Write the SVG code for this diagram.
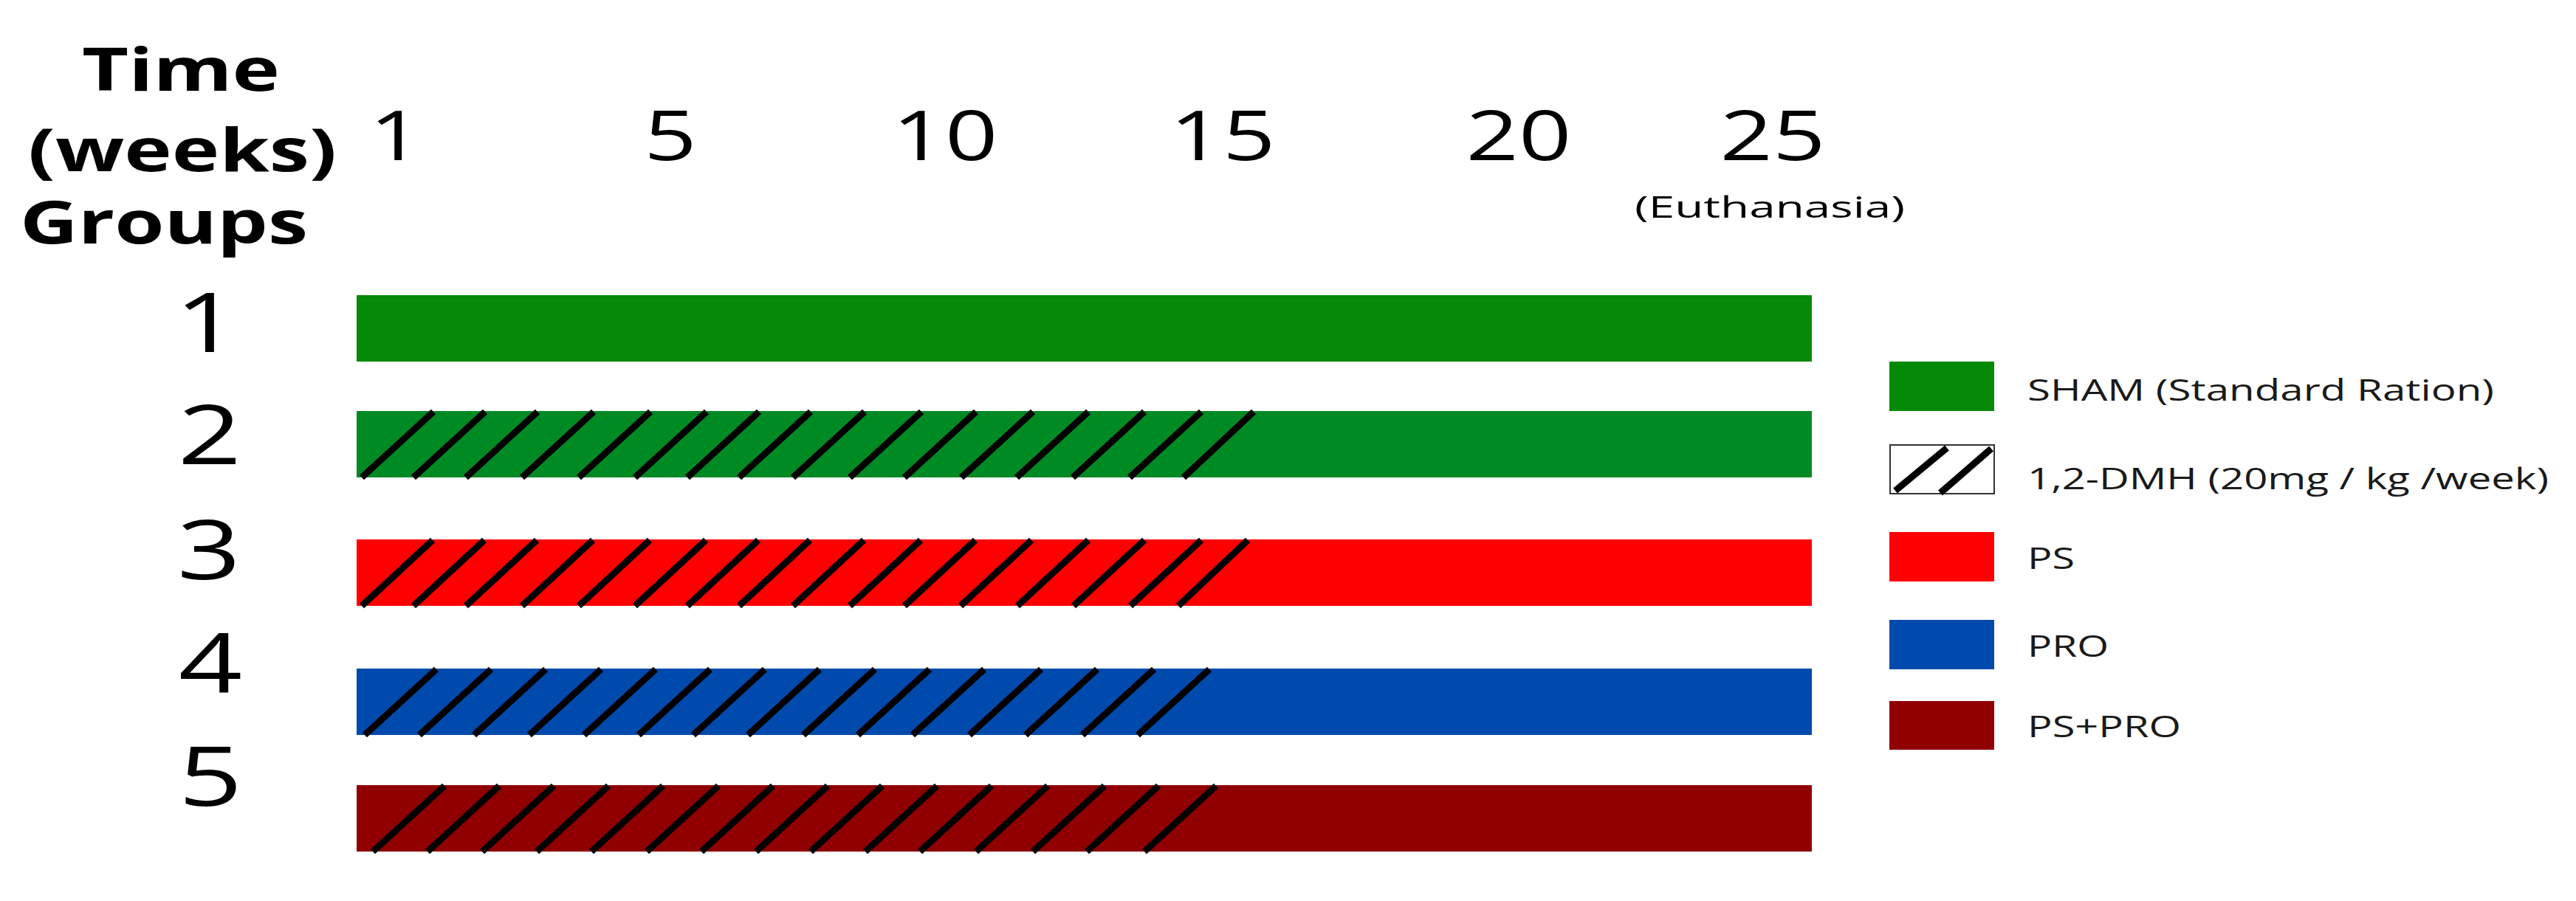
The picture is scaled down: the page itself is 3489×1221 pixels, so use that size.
<svg xmlns="http://www.w3.org/2000/svg" width="3489" height="1221" viewBox="0 0 3489 1221">
<style>
  text { font-family: "Open Sans", "Noto Sans", "DejaVu Sans", sans-serif; fill: #000; }
  .hdr { font-size: 80px; font-weight: 700; text-anchor: middle; }
  .wk { font-size: 94px; text-anchor: middle; }
  .grp { font-size: 112px; text-anchor: middle; }
  .eu { font-size: 40px; text-anchor: middle; }
  .lg { font-size: 40px; fill: #1a1a1a; }
  .hatch { fill: none; stroke: #000; stroke-width: 9; stroke-linecap: butt; }
  .g1 { fill: #058a07; }
  .g2 { fill: #008a24; }
  .rd { fill: #ff0000; }
  .bl { fill: #004aad; }
  .dr { fill: #900000; }
</style>
<rect width="3489" height="1221" fill="#fff"/>

<g id="header">
  <text class="hdr" x="245" y="123" textLength="268" lengthAdjust="spacingAndGlyphs">Time</text>
  <text class="hdr" x="247" y="232" textLength="418" lengthAdjust="spacingAndGlyphs">(weeks)</text>
  <text class="hdr" x="222" y="330" textLength="390" lengthAdjust="spacingAndGlyphs">Groups</text>
</g>

<g id="weeks">
  <text class="wk" transform="translate(536,217) scale(1.33,1)">1</text>
  <text class="wk" transform="translate(908,217) scale(1.33,1)">5</text>
  <text class="wk" transform="translate(1280,217) scale(1.33,1)">10</text>
  <text class="wk" transform="translate(1656,217) scale(1.33,1)">15</text>
  <text class="wk" transform="translate(2057,217) scale(1.33,1)">20</text>
  <text class="wk" transform="translate(2401,217) scale(1.33,1)">25</text>
  <text class="eu" x="2397" y="295" textLength="366" lengthAdjust="spacingAndGlyphs">(Euthanasia)</text>
</g>

<g id="group1">
  <text class="grp" transform="translate(280,477) scale(1.35,1)">1</text>
  <rect class="g1" x="483" y="400" width="1971" height="90"/>
</g>

<g id="group2">
  <text class="grp" transform="translate(284,629) scale(1.35,1)">2</text>
  <rect class="g2" x="483" y="557" width="1971" height="90"/>
  <path class="hatch" d="M490 647l97 -89M560 647l97 -89M631 647l97 -89M707 647l97 -89M784 647l97 -89M860 647l97 -89M931 647l97 -89M1001 647l97 -89M1074 647l97 -89M1151 647l97 -89M1225 647l97 -89M1302 647l97 -89M1377 647l97 -89M1453 647l97 -89M1530 647l97 -89M1603 647l95 -89"/>
</g>

<g id="group3">
  <text class="grp" transform="translate(283,785) scale(1.35,1)">3</text>
  <rect class="rd" x="483" y="731" width="1971" height="90"/>
  <path class="hatch" d="M490 821l96 -89M560 821l96 -89M631 821l96 -89M707 821l96 -89M784 821l96 -89M860 821l96 -89M931 821l96 -89M1001 821l96 -89M1074 821l96 -89M1151 821l96 -89M1225 821l96 -89M1301 821l96 -89M1378 821l96 -89M1454 821l96 -89M1531 821l96 -89M1596 821l94 -89"/>
</g>

<g id="group4">
  <text class="grp" transform="translate(285,939) scale(1.35,1)">4</text>
  <rect class="bl" x="483" y="906" width="1971" height="90"/>
  <path class="hatch" d="M494 996l97 -89M568 996l97 -89M642 996l97 -89M717 996l97 -89M791 996l97 -89M865 996l97 -89M939 996l97 -89M1013 996l97 -89M1088 996l97 -89M1162 996l97 -89M1236 996l97 -89M1313 996l97 -89M1389 996l97 -89M1466 996l97 -89M1541 996l97 -89"/>
</g>

<g id="group5">
  <text class="grp" transform="translate(285,1092) scale(1.35,1)">5</text>
  <rect class="dr" x="483" y="1064" width="1971" height="90"/>
  <path class="hatch" d="M505 1154l97 -89M579 1154l97 -89M653 1154l97 -89M727 1154l97 -89M801 1154l97 -89M876 1154l97 -89M950 1154l97 -89M1024 1154l97 -89M1098 1154l97 -89M1172 1154l97 -89M1246 1154l97 -89M1322 1154l97 -89M1399 1154l97 -89M1472 1154l97 -89M1550 1154l97 -89"/>
</g>

<g id="legend">
  <g id="legend-sham">
    <rect class="g1" x="2559" y="490" width="142" height="67"/>
    <text class="lg" x="2746" y="543" textLength="632" lengthAdjust="spacingAndGlyphs">SHAM (Standard Ration)</text>
  </g>
  <g id="legend-dmh">
    <rect x="2560" y="603" width="141" height="66" fill="#fff" stroke="#333" stroke-width="2"/>
    <path class="hatch" stroke-width="9" d="M2567 665L2637 607M2628 668L2697 608"/>
    <text class="lg" x="2746" y="663" textLength="706" lengthAdjust="spacingAndGlyphs">1,2-DMH (20mg / kg /week)</text>
  </g>
  <g id="legend-ps">
    <rect class="rd" x="2559" y="721" width="142" height="67"/>
    <text class="lg" x="2746" y="771" textLength="64" lengthAdjust="spacingAndGlyphs">PS</text>
  </g>
  <g id="legend-pro">
    <rect class="bl" x="2559" y="840" width="142" height="67"/>
    <text class="lg" x="2746" y="890" textLength="110" lengthAdjust="spacingAndGlyphs">PRO</text>
  </g>
  <g id="legend-pspro">
    <rect class="dr" x="2559" y="950" width="142" height="66"/>
    <text class="lg" x="2746" y="999" textLength="208" lengthAdjust="spacingAndGlyphs">PS+PRO</text>
  </g>
</g>

<g id="connectors"></g>
</svg>
